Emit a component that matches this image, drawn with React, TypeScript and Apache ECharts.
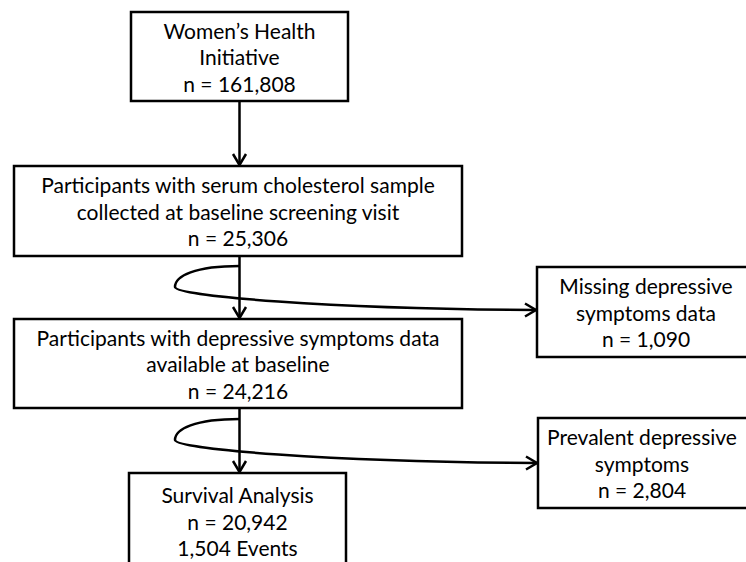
import React, { useEffect, useRef } from "react";
import * as echarts from "echarts";

// ---- content ----
const mainBoxLabels: string[][] = [
  ["Women’s Health", "Initiative", "n = 161,808"],
  ["Participants with serum cholesterol sample", "collected at baseline screening visit", "n = 25,306"],
  ["Participants with depressive symptoms data", "available at baseline", "n = 24,216"],
  ["Survival Analysis", "n = 20,942", "1,504 Events"],
];
const exclusionLabels: string[][] = [
  ["Missing depressive", "symptoms data", "n = 1,090"],
  ["Prevalent depressive", "symptoms", "n = 2,804"],
];

// ---- layout (positions / sizes) ----
const mainBoxes = [
  { x: 131, y: 12, w: 217, h: 89 },
  { x: 14, y: 166, w: 448, h: 90 },
  { x: 14, y: 319, w: 448, h: 89 },
  { x: 129, y: 473, w: 217, h: 96 },
];
const exclBoxes = [
  { x: 537, y: 267, w: 220, h: 90, tx: 646 },
  { x: 538, y: 418, w: 220, h: 90, tx: 642 },
];
const spineX = 239.5;
const curveStarts = [266, 419];

const FONT = "Lato, 'Open Sans', sans-serif";
const LW = 2.5;

function App() {
  const ref = useRef<HTMLDivElement>(null);
  useEffect(() => {
    document.body.style.margin = "0";
    const chart = echarts.init(ref.current!, null, { renderer: "svg" });
    const els: any[] = [];
    const line = (x1: number, y1: number, x2: number, y2: number) =>
      els.push({ type: "line", shape: { x1, y1, x2, y2 }, style: { stroke: "#000", lineWidth: LW } });
    const head = (pts: number[][]) =>
      els.push({ type: "polyline", shape: { points: pts }, style: { stroke: "#000", lineWidth: LW, fill: null, lineJoin: "miter" } });
    const downArrow = (x: number, y1: number, y2: number) => {
      line(x, y1, x, y2 - 1);
      head([[x - 6.5, y2 - 12], [x, y2 - 1], [x + 6.5, y2 - 12]]);
    };
    // vertical arrows
    for (let i = 0; i < mainBoxes.length - 1; i++) {
      const a = mainBoxes[i];
      const b = mainBoxes[i + 1];
      downArrow(spineX, a.y + a.h, b.y);
    }
    // side curves
    curveStarts.forEach((s, i) => {
      const endX = exclBoxes[i].x - 1;
      els.push({
        type: "bezierCurve",
        shape: { x1: spineX, y1: s, cpx1: 195, cpy1: s, cpx2: 175, cpy2: s + 10, x2: 175, y2: s + 21 },
        style: { stroke: "#000", lineWidth: LW, fill: null },
      });
      els.push({
        type: "bezierCurve",
        shape: { x1: 175, y1: s + 21, cpx1: 175, cpy1: s + 30, cpx2: 330, cpy2: s + 43, x2: endX, y2: s + 44 },
        style: { stroke: "#000", lineWidth: LW, fill: null },
      });
      head([[endX - 11, s + 37.5], [endX, s + 44], [endX - 11, s + 50.5]]);
    });
    const box = (b: any, lines: string[], tx: number) => {
      els.push({ type: "rect", shape: { x: b.x, y: b.y, width: b.w, height: b.h }, style: { fill: "#fff", stroke: "#000", lineWidth: LW } });
      els.push({
        type: "text",
        style: {
          text: lines.join("\n"),
          x: tx,
          y: b.y + b.h / 2,
          align: "center",
          verticalAlign: "middle",
          textAlign: "center",
          textVerticalAlign: "middle",
          fontFamily: FONT,
          fontSize: 21,
          lineHeight: 26.5,
          fill: "#000",
        },
      });
    };
    mainBoxes.forEach((b, i) => box(b, mainBoxLabels[i], b.x + b.w / 2));
    exclBoxes.forEach((b, i) => box(b, exclusionLabels[i], b.tx));

    chart.setOption({ animation: false, backgroundColor: "#fff", graphic: { elements: els } });
    return () => chart.dispose();
  }, []);
  return <div ref={ref} style={{ width: 746, height: 562 }} />;
}

export default App;
